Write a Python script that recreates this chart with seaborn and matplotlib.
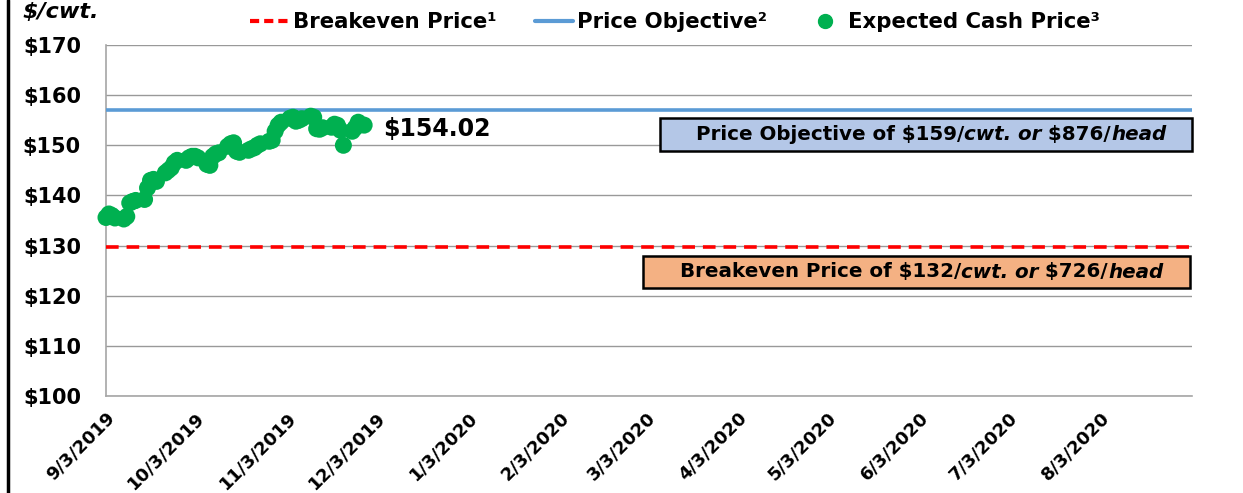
import matplotlib
matplotlib.use("Agg")
import matplotlib.pyplot as plt
from matplotlib.lines import Line2D
from matplotlib.patches import Rectangle
import seaborn as sns
import pandas as pd

# ---------------- data ----------------
dates = [
    "2019-09-03", "2019-09-04", "2019-09-05", "2019-09-06", "2019-09-09", "2019-09-10",
    "2019-09-11", "2019-09-12", "2019-09-13", "2019-09-16", "2019-09-17", "2019-09-18",
    "2019-09-19", "2019-09-20", "2019-09-23", "2019-09-24", "2019-09-25", "2019-09-26",
    "2019-09-27", "2019-09-30",
    "2019-10-01", "2019-10-02", "2019-10-03", "2019-10-04", "2019-10-07", "2019-10-08",
    "2019-10-09", "2019-10-10", "2019-10-11", "2019-10-14", "2019-10-15", "2019-10-16",
    "2019-10-17", "2019-10-18", "2019-10-21", "2019-10-22", "2019-10-23", "2019-10-24",
    "2019-10-25", "2019-10-28", "2019-10-29", "2019-10-30", "2019-10-31",
    "2019-11-01", "2019-11-04", "2019-11-05", "2019-11-06", "2019-11-07", "2019-11-08",
    "2019-11-11", "2019-11-12", "2019-11-13", "2019-11-14", "2019-11-15", "2019-11-18",
    "2019-11-19", "2019-11-20", "2019-11-21", "2019-11-22", "2019-11-25", "2019-11-26",
    "2019-11-27", "2019-11-29",
]
cash_price = [
    135.6, 136.3, 136.0, 135.5, 135.3, 135.8,
    138.5, 138.8, 139.0, 139.2, 141.5, 143.0,
    143.2, 142.8, 144.5, 145.0, 145.5, 146.5,
    147.0, 147.0,
    147.5, 147.8, 147.8, 147.5, 146.2, 146.0,
    147.8, 148.3, 148.5, 149.8, 150.3, 150.5,
    148.8, 148.6, 149.0, 149.3, 149.5, 150.0,
    150.3, 150.8, 151.0, 152.8, 154.0,
    154.6, 155.4, 155.6, 154.8, 155.0, 155.3,
    155.8, 155.6, 153.3, 153.2, 153.5, 153.6,
    154.2, 154.0, 153.0, 150.0, 152.8, 153.5,
    154.6, 154.02,
]
breakeven_line = 129.8
objective_line = 157.1
last_label = "$154.02"

tick_dates = ["2019-09-03", "2019-10-03", "2019-11-03", "2019-12-03", "2020-01-03",
              "2020-02-03", "2020-03-03", "2020-04-03", "2020-05-03", "2020-06-03",
              "2020-07-03", "2020-08-03"]
tick_labels = ["9/3/2019", "10/3/2019", "11/3/2019", "12/3/2019", "1/3/2020", "2/3/2020",
               "3/3/2020", "4/3/2020", "5/3/2020", "6/3/2020", "7/3/2020", "8/3/2020"]
y_ticks = [100, 110, 120, 130, 140, 150, 160, 170]

legend_labels = ["Breakeven Price\u00b9", "Price Objective\u00b2", "Expected Cash Price\u00b3"]
box1_parts = [("Price Objective of \\$159/", "normal"), ("cwt. or", "italic"),
              (" \\$876/", "normal"), ("head", "italic")]
box2_parts = [("Breakeven Price of \\$132/", "normal"), ("cwt. or", "italic"),
              (" \\$726/", "normal"), ("head", "italic")]

# ---------------- style ----------------
sns.set_theme(style="white")
plt.rcParams["font.family"] = ["DejaVu Sans"]
plt.rcParams["font.weight"] = "bold"
plt.rcParams["text.color"] = "black"
plt.rcParams["xtick.color"] = "black"
plt.rcParams["ytick.color"] = "black"

W, H = 1243, 493
fig = plt.figure(figsize=(W / 100, H / 100), dpi=100)
ax = fig.add_axes([106 / W, 1 - 396 / H, (1192 - 106) / W, (396 - 45) / H])

df = pd.DataFrame({"date": pd.to_datetime(dates), "price": cash_price})

ax.axhline(breakeven_line, color="#FF0000", lw=2.6, ls=(0, (3.5, 2.2)), zorder=3)
ax.axhline(objective_line, color="#5B9BD5", lw=2.6, zorder=3)
sns.scatterplot(data=df, x="date", y="price", ax=ax, color="#00B050", s=150,
                edgecolor="none", zorder=4, legend=False, clip_on=False)

ax.set_xlim(pd.Timestamp("2019-09-03"), pd.Timestamp("2020-09-03"))
ax.set_ylim(100, 170)
ax.set_yticks(y_ticks)
ax.set_yticklabels(["$%d" % v for v in y_ticks], fontsize=15, fontweight="bold")
ax.set_xticks(pd.to_datetime(tick_dates))
ax.set_xticklabels(tick_labels, rotation=45, ha="right", rotation_mode="anchor",
                   fontsize=13, fontweight="bold")
ax.tick_params(axis="y", length=0, pad=18)
ax.tick_params(axis="x", length=0, pad=9)
ax.set_xlabel("")
ax.set_ylabel("")
ax.grid(axis="y", color="#999999", lw=1)
ax.grid(axis="x", visible=False)
for s in ["top", "right"]:
    ax.spines[s].set_visible(False)
for s in ["left", "bottom"]:
    ax.spines[s].set_color("#A6A6A6")
    ax.spines[s].set_linewidth(1.2)

# last value label
ax.annotate(last_label.replace("$", "\\$"), xy=(df["date"].iloc[-1], cash_price[-1]),
            xytext=(14, -3), textcoords="offset points", va="center", ha="left",
            fontsize=17, fontweight="bold", color="black")

# y unit label
fig.text(22 / W, 1 - 12 / H, "\\$/cwt.", fontsize=16, fontweight="bold", style="italic",
         ha="left", va="center")

# left frame line
fig.add_artist(Line2D([8 / W, 8 / W], [0, 1], color="black", lw=2.5,
                      transform=fig.transFigure))

# legend
handles = [
    Line2D([], [], color="#FF0000", lw=3, ls=(0, (2.2, 1.2))),
    Line2D([], [], color="#5B9BD5", lw=3),
    Line2D([], [], color="#00B050", marker="o", ls="none", markersize=10),
]
fig.legend(handles, legend_labels, loc="center", bbox_to_anchor=(0.543, 1 - 22 / H),
           ncol=3, frameon=False, prop={"size": 15.3, "weight": "bold"},
           handlelength=1.8, handletextpad=0.2, columnspacing=1.8)

# boxes with mixed-style text
def rich_box(x0, x1, y0, y1, color, parts, fontsize=14.3):
    fig.add_artist(Rectangle((x0 / W, 1 - y1 / H), (x1 - x0) / W, (y1 - y0) / H,
                             transform=fig.transFigure, facecolor=color,
                             edgecolor="black", lw=1.8, zorder=5))
    renderer = fig.canvas.get_renderer()
    texts = []
    widths = []
    for s, st in parts:
        t = fig.text(0, 1 - (y0 + y1) / 2 / H, s, fontsize=fontsize, fontweight="bold",
                     style=st, ha="left", va="center", zorder=6)
        texts.append(t)
        widths.append(t.get_window_extent(renderer=renderer).width)
    total = sum(widths)
    x = (x0 + x1) / 2 - total / 2 + 5
    for t, w in zip(texts, widths):
        t.set_x(x / W)
        x += w

rich_box(660, 1192, 118, 151, "#B4C7E7", box1_parts)
rich_box(643, 1190, 256, 288, "#F4B183", box2_parts)

fig.savefig("out.png", dpi=100)
